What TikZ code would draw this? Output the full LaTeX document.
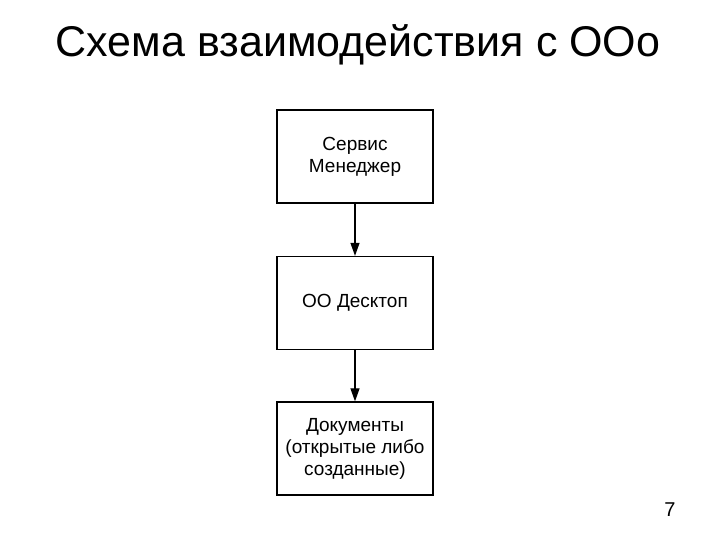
\documentclass[tikz,border=0pt]{standalone}
\usepackage{fontspec}
\setmainfont{Liberation Sans}
\usetikzlibrary{arrows.meta}
\begin{document}
\begin{tikzpicture}[x=1pt,y=-1pt,
  box/.style={draw,line width=1.3pt,minimum width=156pt,minimum height=93pt,align=center,font=\fontsize{19}{22}\selectfont,inner sep=0pt},
  arr/.style={line width=1.2pt,-{Triangle[length=13pt,width=9pt]}}]
\useasboundingbox (0,0) rectangle (720,540);
\node[font=\fontsize{43}{48}\selectfont] (title) at (358,45) {Схема взаимодействия с ООо};
\node[box] (a) at (355,156.5) {Сервис\\Менеджер};
\node[box] (b) at (355,303) {ОО Десктоп};
\node[box] (c) at (355,448.5) {Документы\\(открытые либо\\созданные)};
\draw[arr] (a) -- (b);
\draw[arr] (b) -- (c);
\node[font=\fontsize{20}{22}\selectfont] (n) at (670,510) {7};
\end{tikzpicture}
\end{document}
